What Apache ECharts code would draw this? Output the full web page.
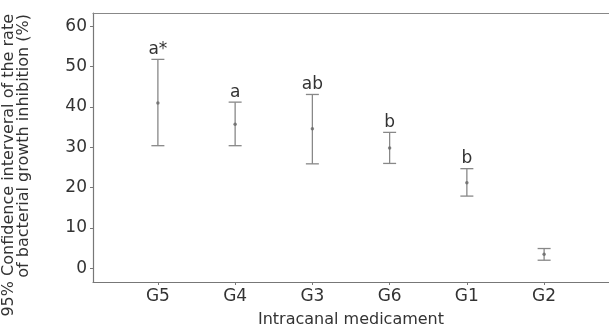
<!DOCTYPE html>
<html>
<head>
<meta charset="utf-8">
<script src="https://cdn.jsdelivr.net/npm/echarts@6/dist/echarts.min.js"></script>
<style>
  html, body { margin: 0; padding: 0; background: #fff; }
  #chart { width: 609px; height: 333px; }
</style>
</head>
<body>
<div id="chart"></div>
<script>
// groups in plotted order, with 95% CI
const groups = ['G5', 'G4', 'G3', 'G6', 'G1', 'G2'];
const means = [41.0, 35.7, 34.6, 29.8, 21.2, 3.5];
const lower = [30.4, 30.4, 25.9, 26.0, 17.9, 2.0];
const upper = [51.8, 41.2, 43.1, 33.7, 24.7, 4.9];
const letters = ['a*', 'a', 'ab', 'b', 'b', ''];
const yTicks = [0, 10, 20, 30, 40, 50, 60];

const FONT = '"DejaVu Sans", sans-serif';
const TEXT = '#333';
const LINE = '#777';

const chart = echarts.init(document.getElementById('chart'));

const ciData = groups.map((g, i) => [i, lower[i], upper[i], letters[i]]);
const meanData = groups.map((g, i) => [i, means[i]]);

const option = {
  animation: false,
  grid: { left: 93, right: -6, top: 13, bottom: 49 },
  xAxis: [{
    type: 'value',
    min: -0.84,
    max: 5.84,
    splitLine: { show: false },
    axisLine: { onZero: false, lineStyle: { color: LINE, width: 1.2 } },
    axisTick: { length: 3, lineStyle: { color: LINE }, customValues: groups.map((g, i) => i) },
    axisLabel: {
      customValues: groups.map((g, i) => i),
      formatter: v => groups[v],
      color: TEXT, fontFamily: FONT, fontSize: 17, margin: 6
    },
    name: 'Intracanal medicament',
    nameLocation: 'middle',
    nameGap: 30,
    nameTextStyle: { color: TEXT, fontFamily: FONT, fontSize: 16 }
  }, {
    type: 'value',
    position: 'top',
    min: -0.84,
    max: 5.84,
    splitLine: { show: false },
    axisLine: { show: true, onZero: false, lineStyle: { color: '#888', width: 1.2 } },
    axisTick: { show: false },
    axisLabel: { show: false }
  }],
  yAxis: {
    type: 'value',
    min: -3.4,
    max: 63.3,
    splitLine: { show: false },
    axisLine: { show: true, onZero: false, lineStyle: { color: LINE, width: 1.2 } },
    axisTick: { show: true, length: 3, lineStyle: { color: LINE }, customValues: yTicks },
    axisLabel: { customValues: yTicks, color: TEXT, fontFamily: FONT, fontSize: 17, margin: 6 }
  },
  graphic: [{
    type: 'text', x: 9, y: 14, rotation: Math.PI / 2,
    style: {
      text: '95% Confidence interveral of the rate',
      fill: TEXT, font: '16px ' + FONT, textAlign: 'right', textVerticalAlign: 'middle'
    }
  }, {
    type: 'text', x: 23.5, y: 14, rotation: Math.PI / 2,
    style: {
      text: 'of bacterial growth inhibition (%)',
      fill: TEXT, font: '16px ' + FONT, textAlign: 'right', textVerticalAlign: 'middle'
    }
  }],
  series: [{
    type: 'custom',
    data: ciData,
    encode: { x: 0, y: [1, 2] },
    renderItem: (params, api) => {
      const lo = api.coord([api.value(0), api.value(1)]);
      const hi = api.coord([api.value(0), api.value(2)]);
      const half = 6.5;
      const style = { stroke: '#888', lineWidth: 1.3 };
      return {
        type: 'group',
        children: [
          { type: 'line', shape: { x1: hi[0], y1: hi[1], x2: lo[0], y2: lo[1] }, style },
          { type: 'line', shape: { x1: hi[0] - half, y1: hi[1], x2: hi[0] + half, y2: hi[1] }, style },
          { type: 'line', shape: { x1: lo[0] - half, y1: lo[1], x2: lo[0] + half, y2: lo[1] }, style },
          {
            type: 'text', x: hi[0], y: hi[1] - 10,
            style: {
              text: letters[params.dataIndex], fill: TEXT, font: '17px ' + FONT,
              textAlign: 'center', textVerticalAlign: 'middle'
            }
          }
        ]
      };
    }
  }, {
    type: 'scatter',
    data: meanData,
    symbol: 'circle',
    symbolSize: 3.5,
    itemStyle: { color: '#666' }
  }]
};

chart.setOption(option);
</script>
</body>
</html>
